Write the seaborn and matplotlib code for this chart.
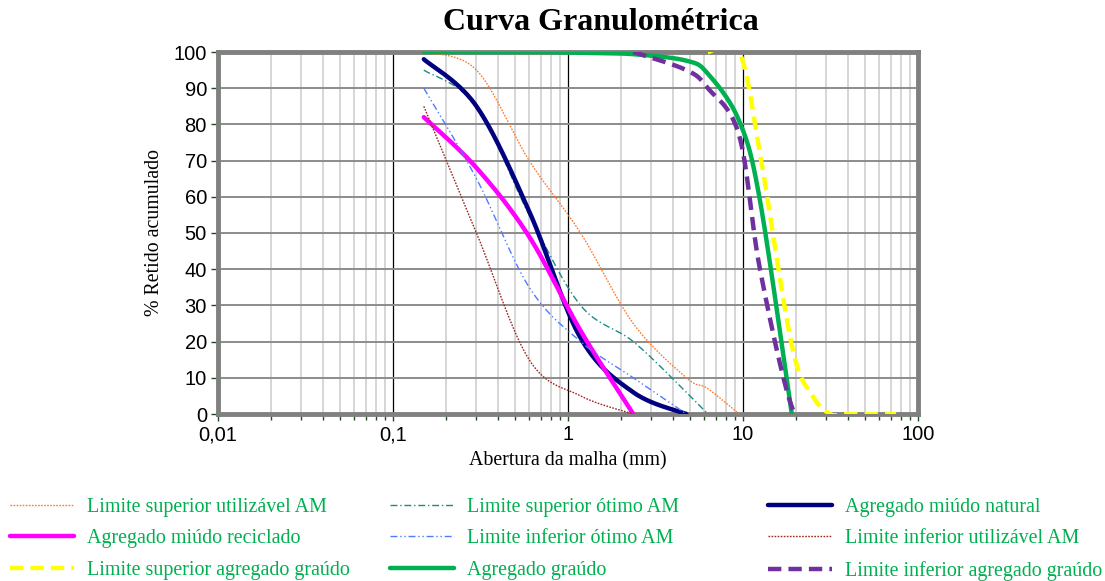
import numpy as np
import pandas as pd
import matplotlib
matplotlib.use("Agg")
import matplotlib.pyplot as plt
import seaborn as sns
from matplotlib.lines import Line2D
from matplotlib.ticker import FixedLocator, FixedFormatter, NullFormatter

# ---------------- data ----------------
sieves_fine = [0.15, 0.3, 0.6, 1.18, 2.36, 4.75, 6.3, 9.5]
lim_sup_util = [100, 95, 70, 50, 25, 10, 7, 0]
lim_sup_otimo = [95, 85, 55, 30, 20, 6, 0]
natural = [98, 85, 56, 21, 6, 0]
reciclado = [82, 68, 49, 23, 0]
lim_inf_otimo = [90, 65, 35, 20, 10, 0]
lim_inf_util = [85, 50, 15, 5, 0]

sieves_graudo = [0.15, 0.3, 0.6, 1.18, 2.36, 4.75, 6.3, 9.5, 12.5, 19]
graudo = [100, 100, 100, 99.8, 99.4, 97.6, 94, 81, 59, 0]

sieves_lsg = [6.3, 9.5, 12.5, 19, 25, 31.5, 37.5, 50, 63, 75]
lim_sup_graudo = [100, 100, 72, 19, 5, 0, 0, 0, 0, 0]

sieves_lig = [2.36, 4.75, 6.3, 9.5, 12.5, 19, 25]
lim_inf_graudo = [100, 95, 90, 77, 40, 2, 0]

x_ticks = [0.01, 0.1, 1, 10, 100]
x_ticklabels = ["0,01", "0,1", "1", "10", "100"]
y_ticks = [0, 10, 20, 30, 40, 50, 60, 70, 80, 90, 100]

title = "Curva Granulométrica"
xlabel = "Abertura da malha (mm)"
ylabel = "% Retido acumulado"

# ---------------- helpers ----------------
SX, SY = 175.0, 3.62  # screen scale per decade / per percent


def smooth(xs, ys, n=40):
    """Excel-like smoothed line (Bezier through the data points) in screen space."""
    P = np.column_stack([SX * np.log10(np.asarray(xs, float)), SY * np.asarray(ys, float)])
    if len(P) < 3:
        return np.asarray(xs, float), np.asarray(ys, float)
    Q = np.vstack([P[0], P, P[-1]])
    out = []
    t = np.linspace(0, 1, n)[:, None]
    for i in range(1, len(Q) - 2):
        p0, p3 = Q[i], Q[i + 1]
        p1 = p0 + (Q[i + 1] - Q[i - 1]) / 6.0
        p2 = p3 - (Q[i + 2] - Q[i]) / 6.0
        seg = ((1 - t) ** 3) * p0 + 3 * ((1 - t) ** 2) * t * p1 + 3 * (1 - t) * t ** 2 * p2 + t ** 3 * p3
        out.append(seg if i == 1 else seg[1:])
    S = np.vstack(out)
    return 10 ** (S[:, 0] / SX), S[:, 1] / SY


series = [
    ("Limite superior utilizável AM", sieves_fine, lim_sup_util, dict(color="#FF7A2F", lw=1.0, ls=(0, (1.2, 1.0)))),
    ("Limite superior ótimo AM", sieves_fine, lim_sup_otimo, dict(color="#1A8C86", lw=1.0, ls=(0, (5, 2, 1, 2)))),
    ("Agregado miúdo natural", sieves_fine, natural, dict(color="#000080", lw=3.2, ls="-")),
    ("Agregado miúdo reciclado", sieves_fine, reciclado, dict(color="#FF00FF", lw=3.2, ls="-")),
    ("Limite inferior ótimo AM", sieves_fine, lim_inf_otimo, dict(color="#4F7BFF", lw=1.0, ls=(0, (5, 2, 1, 2, 1, 2)))),
    ("Limite inferior utilizável AM", sieves_fine, lim_inf_util, dict(color="#9B2A1F", lw=1.0, ls=(0, (1.2, 1.0)))),
    ("Limite superior agregado graúdo", sieves_lsg, lim_sup_graudo, dict(color="#FFFF00", lw=3.2, ls=(0, (3, 1.6)))),
    ("Agregado graúdo", sieves_graudo, graudo, dict(color="#00B050", lw=3.2, ls="-")),
    ("Limite inferior agregado graúdo", sieves_lig, lim_inf_graudo, dict(color="#7030A0", lw=3.2, ls=(0, (3, 1.6)))),
]

# ---------------- figure ----------------
sns.set_theme(style="white")
plt.rcParams["font.family"] = ["Liberation Sans", "DejaVu Sans"]

fig = plt.figure(figsize=(11.05, 5.81), dpi=100)
ax = fig.add_axes([218 / 1105, 1 - 414 / 581, 700 / 1105, 362 / 581])

handles = []
for label, xs, ys, st in series:
    n = len(ys)
    sx, sy = smooth(xs[:n], ys)
    df = pd.DataFrame({"x": sx, "y": sy})
    sns.lineplot(data=df, x="x", y="y", sort=False, estimator=None, ax=ax,
                 color=st["color"], linewidth=st["lw"], linestyle=st["ls"], zorder=3)
    handles.append(Line2D([], [], color=st["color"], lw=st["lw"], ls=st["ls"], label=label))

ax.set_xscale("log")
ax.set_xlim(0.01, 100)
ax.set_ylim(0, 100)

ax.xaxis.set_major_locator(FixedLocator(x_ticks))
ax.xaxis.set_major_formatter(FixedFormatter(x_ticklabels))
minor = [m * 10.0 ** e for e in range(-2, 2) for m in range(2, 10)]
ax.xaxis.set_minor_locator(FixedLocator(minor))
ax.xaxis.set_minor_formatter(NullFormatter())
ax.yaxis.set_major_locator(FixedLocator(y_ticks))

ax.grid(False)
for v in minor:
    ax.axvline(v, color="#CFCFCF", lw=1.2, zorder=1)
for v in x_ticks[1:-1]:
    ax.axvline(v, color="#000000", lw=0.9, zorder=1)
for v in y_ticks[1:-1]:
    ax.axhline(v, color="#8C8C8C", lw=1.4, zorder=1)

for sp in ax.spines.values():
    sp.set_color("#808080")
    sp.set_linewidth(3.5)
    sp.set_visible(True)

ax.tick_params(axis="both", which="both", direction="out", color="#1F4F1F",
               labelsize=14.5, labelcolor="black")
ax.tick_params(axis="both", which="major", length=5, width=1.0, pad=3)
ax.tick_params(axis="x", which="minor", length=4, width=1.0)
ax.tick_params(axis="x", which="both", bottom=True)
ax.tick_params(axis="y", which="both", left=True)

ax.set_xlabel(xlabel, family=["Liberation Serif"], fontsize=14.3, labelpad=5, color="black")
ax.set_ylabel(ylabel, family=["Liberation Serif"], fontsize=14.3, labelpad=7, color="black")

fig.text(601 / 1105, 1 - 22 / 581, title, ha="center", va="center",
         family=["Liberation Serif"], fontsize=23, fontweight="bold", color="black")

# ---------------- legend: 3 columns x 3 rows ----------------
col_x = [10, 390, 768]
for c in range(3):
    hs = [handles[r * 3 + c] for r in range(3)]
    leg = fig.legend(handles=hs, loc="upper left", bbox_to_anchor=(col_x[c] / 1105, 1 - 498 / 581),
                     frameon=False, ncol=1, borderpad=0, borderaxespad=0,
                     handlelength=3.2, handletextpad=0.65, labelspacing=0.62,
                     prop={"family": "Liberation Serif", "size": 14.4})
    for t in leg.get_texts():
        t.set_color("#00B050")

fig.savefig("out.png", dpi=100)
